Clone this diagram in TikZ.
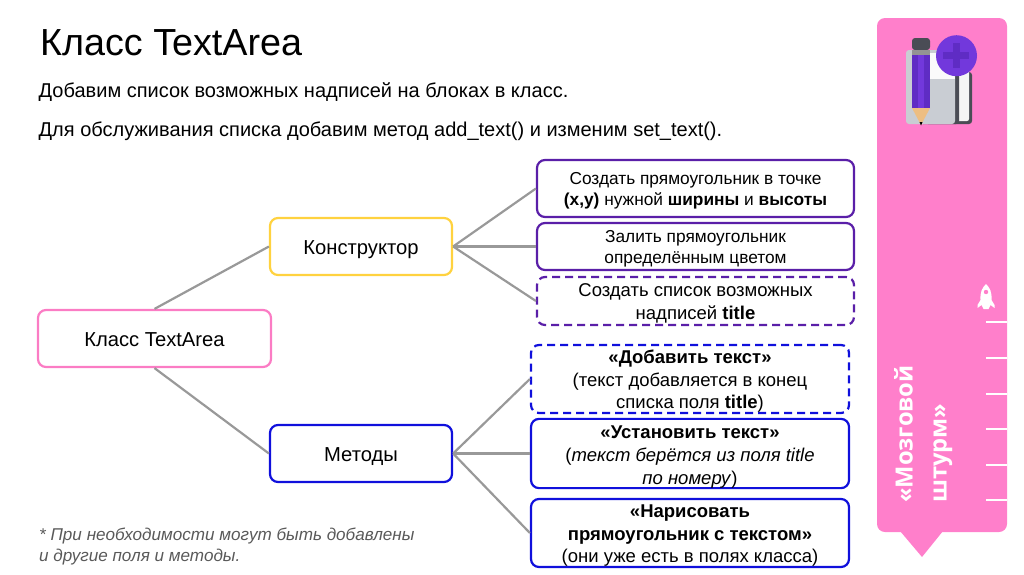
\documentclass[tikz,border=0pt]{standalone}
\usepackage{fontspec}
\setmainfont{Liberation Sans}
\newfontfamily\panelfont{Open Sans}
\definecolor{panelpink}{HTML}{FF7FCB}
\definecolor{boxpink}{HTML}{FB7CC4}
\definecolor{boxyellow}{HTML}{FFD23F}
\definecolor{boxblue}{HTML}{1010DC}
\definecolor{boxpurple}{HTML}{5A1FA8}
\definecolor{linkgray}{HTML}{999999}
\definecolor{notegray}{HTML}{595959}
\definecolor{iconpurple}{HTML}{7238DC}
\definecolor{iconplus}{HTML}{5F2CC4}
\definecolor{icongray}{HTML}{C9CDD3}
\definecolor{icondark}{HTML}{4A4C55}
\definecolor{icontan}{HTML}{EDBE82}
\newcommand{\boxgap}[1]{\rule{0pt}{#1pt}}
\tikzset{
  box/.style={draw,line width=2.2pt,rounded corners=8pt,inner sep=0pt,align=center,
    font=\fontsize{17.3}{20.5}\selectfont},
  bigbox/.style={box,font=\fontsize{18.5}{22.7}\selectfont},
  headbox/.style={box,minimum width=182pt,minimum height=57pt,font=\fontsize{20.2}{24}\selectfont},
  longdash/.style={dash pattern=on 8pt off 5pt},
  link/.style={draw=linkgray,line width=2.2pt},
  textline/.style={anchor=base west,inner sep=0pt,font=\fontsize{20}{24}\selectfont},
  tick/.style={draw=white,line width=2pt},
}
\begin{document}
\begin{tikzpicture}[x=1pt,y=-1pt]
   \useasboundingbox (0,0) rectangle (1024,574);
   %title
   \node[textline,font=\fontsize{37.7}{44}\selectfont] (title) at (40,55) {Класс TextArea};
   \node[textline] (line1) at (38.5,97) {Добавим список возможных надписей на блоках в класс.};
   \node[textline] (line2) at (38.5,136) {Для обслуживания списка добавим метод add\_text() и изменим set\_text().};
   %root
   \node[headbox,draw=boxpink,minimum width=233pt] (cls) at (154.5,338.5) {\boxgap{17}Класс TextArea};
   \node[headbox,draw=boxyellow] (ctor) at (361,246.5) {\boxgap{21}Конструктор};
   \node[headbox,draw=boxblue] (meth) at (361,453.5) {\boxgap{19}Методы};
   %constructor
   \node[box,draw=boxpurple,minimum width=317pt,minimum height=57pt] (rect) at (695.5,188.5)
      {\boxgap{17}Создать прямоугольник в точке\\\textbf{(x,y)} нужной \textbf{ширины} и \textbf{высоты}};
   \node[box,draw=boxpurple,minimum width=317pt,minimum height=47pt] (fill) at (695.5,246.5)
      {\boxgap{17}Залить прямоугольник\\определённым цветом};
   \node[bigbox,draw=boxpurple,longdash,minimum width=317pt,minimum height=48pt] (list) at (695.5,301)
      {\boxgap{18}Создать список возможных\\надписей \textbf{title}};
   %methods
   \node[bigbox,draw=boxblue,longdash,minimum width=318pt,minimum height=68pt] (add) at (690,379)
      {\boxgap{18}\textbf{«Добавить текст»}\\(текст добавляется в конец\\списка поля \textbf{title})};
   \node[bigbox,draw=boxblue,minimum width=318pt,minimum height=68pt] (set) at (690,453.5)
      {\boxgap{20}\textbf{«Установить текст»}\\(\textit{текст берётся из поля title}\\\textit{по номеру})};
   \node[bigbox,draw=boxblue,minimum width=318pt,minimum height=68pt] (draw) at (690,533)
      {\boxgap{18}\textbf{«Нарисовать}\\\textbf{прямоугольник с текстом»}\\(они уже есть в полях класса)};
   %links
   \draw[link] (cls.north) -- (ctor.west);
   \draw[link] (cls.south) -- (meth.west);
   \draw[link] (ctor.east) -- (rect.west);
   \draw[link] (ctor.east) -- (fill.west);
   \draw[link] (ctor.east) -- (list.west);
   \draw[link] (meth.east) -- (add.west);
   \draw[link] (meth.east) -- (set.west);
   \draw[link] (meth.east) -- (draw.west);
   %note
   \node[textline,text=notegray,font=\fontsize{17.1}{21}\selectfont\itshape,align=left,anchor=north west] (note) at (39,528)
      {* При необходимости могут быть добавлены\\и другие поля и методы.};
   %panel
   \fill[panelpink,rounded corners=8pt] (877,18) -- (1007,18) -- (1007,532) -- (877,532) -- cycle;
   \fill[panelpink] (900,531) -- (943,531) -- (922,557) -- cycle;
   \foreach \y in {322,358,393.5,429,464.5,500}
      \draw[tick] (986,\y) -- (1007,\y);
   \node[rotate=90,anchor=north west,inner sep=0pt,align=left,text=white,
      font=\panelfont\fontsize{23.7}{34}\selectfont\bfseries] (brain) at (894,503) {«Мозговой\\штурм»};
   %rocket
   \fill[white] (986,284) .. controls (990,288) and (992,292) .. (991.5,300) -- (994.5,305) -- (994.5,308) -- (990.5,305)
      -- (988.5,309) -- (983.5,309) -- (981.5,305) -- (977.5,308) -- (977.5,305) -- (980.5,300) .. controls (980,292) and (982,288) .. (986,284) -- cycle;
   \fill[panelpink] (986,292) circle (2.2);
   %icon
   \fill[icondark,rounded corners=3pt] (925,72) -- (972,72) -- (972,124) -- (925,124) -- cycle;
   \fill[white!92!gray,rounded corners=2pt] (925,68) -- (969,68) -- (969,121) -- (925,121) -- cycle;
   \fill[icondark,rounded corners=3pt] (920,58) -- (959,58) -- (959,124) -- (920,124) -- cycle;
   \fill[icongray,rounded corners=3pt] (906,50) -- (955,50) -- (955,124) -- (906,124) -- cycle;
   \fill[white!90!icongray] (930,53) -- (955,53) -- (955,79) -- (930,79) -- cycle;
   \fill[icondark,rounded corners=3pt] (912,50) -- (912,38) -- (930,38) -- (930,50) -- cycle;
   \fill[gray!85!white] (912,50) rectangle (930,55);
   \fill[iconplus] (912,55) rectangle (930,108);
   \fill[iconpurple] (918,55) rectangle (924,108);
   \fill[icontan] (912,108) -- (930,108) -- (921,125) -- cycle;
   \fill[black] (919.5,122) -- (922.5,122) -- (921,125.5) -- cycle;
   \fill[iconpurple] (956.5,55.7) circle (20.5);
   \fill[iconplus] (953,43) rectangle (960,68);
   \fill[iconplus] (943,52) rectangle (969,59);
\end{tikzpicture}
\end{document}
